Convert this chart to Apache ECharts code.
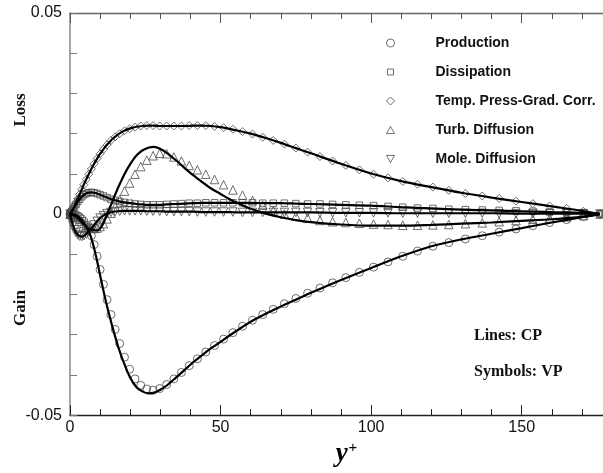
<!DOCTYPE html>
<html>
<head>
<meta charset="utf-8">
<title>Scalar variance budget</title>
<script src="https://cdn.jsdelivr.net/npm/echarts@6/dist/echarts.min.js"></script>
<style>
  html, body { margin: 0; padding: 0; background: #ffffff; }
  #chart { width: 603px; height: 473px; }
</style>
</head>
<body>
<div id="chart"></div>
<script>
// Wall-normal positions (y+) of the continuous-profile curves (CP)
const yPlusLine = [0,1,2,3,4,5,6,7,8,9,10,11,12,13,14,16,18,20,22,24,26,28,30,32,35,38,41,44,47,50,53,56,60,65,70,75,80,90,100,110,120,130,140,150,160,170,176];

const productionLine = [0,-0.0001,-0.0003,-0.0008,-0.0016,-0.0027,-0.0040,-0.0058,-0.0085,-0.0117,-0.0152,-0.0187,-0.0220,-0.0250,-0.0278,
  -0.0330,-0.0372,-0.0407,-0.0430,-0.0441,-0.0446,-0.0444,-0.0437,-0.0427,
  -0.0408,-0.0388,-0.0368,-0.0350,-0.0333,-0.0318,-0.0302,-0.0287,
  -0.0268,-0.0248,-0.0230,-0.0213,-0.0196,
  -0.0164,-0.0134,-0.0105,-0.0080,-0.0063,-0.0049,-0.0035,-0.0021,-0.0008,0];

const dissipationLine = [0,0.0012,0.0024,0.0035,0.0044,0.0050,0.0053,0.0054,0.0053,0.0051,0.0048,0.0045,0.0042,0.0039,0.0036,
  0.0032,0.0029,0.0027,0.0025,0.0024,0.0023,0.0023,0.0023,0.0024,
  0.0025,0.0026,0.0027,0.0028,0.0028,0.0028,0.0028,0.0028,
  0.0028,0.0027,0.0027,0.0026,0.0025,
  0.0023,0.0021,0.0017,0.0014,0.0011,0.0009,0.0007,0.0005,0.0003,0.0001];

const pressGradLine = [0,0.0012,0.0028,0.0045,0.0063,0.0080,0.0096,0.0111,0.0125,0.0138,0.0150,0.0160,0.0170,0.0178,0.0186,
  0.0198,0.0207,0.0213,0.0217,0.0219,0.0220,0.0220,0.0219,0.0219,
  0.0219,0.0219,0.0220,0.0220,0.0219,0.0216,0.0212,0.0207,
  0.0200,0.0189,0.0177,0.0164,0.0151,
  0.0125,0.0101,0.0082,0.0067,0.0053,0.0041,0.0030,0.0019,0.0008,0];

const turbDiffLine = [0,-0.0002,-0.0006,-0.0013,-0.0021,-0.0029,-0.0035,-0.0039,-0.0040,-0.0041,-0.0036,-0.0024,-0.0007,0.0012,0.0030,
  0.0066,0.0098,0.0124,0.0145,0.0158,0.0165,0.0167,0.0162,0.0153,
  0.0135,0.0115,0.0096,0.0079,0.0063,0.0050,0.0037,0.0026,
  0.0013,0.0001,-0.0008,-0.0015,-0.0020,
  -0.0026,-0.0029,-0.0029,-0.0027,-0.0024,-0.0021,-0.0017,-0.0013,-0.0007,0];

const moleDiffLine = [0,-0.0029,-0.0046,-0.0054,-0.0056,-0.0052,-0.0045,-0.0037,-0.0027,-0.0018,-0.0010,-0.0004,0.0001,0.0003,0.0005,
  0.0007,0.0008,0.0008,0.0008,0.0008,0.0007,0.0007,0.0007,0.0006,
  0.0006,0.0006,0.0006,0.0005,0.0005,0.0005,0.0005,0.0004,
  0.0004,0.0004,0.0004,0.0004,0.0004,
  0.0003,0.0003,0.0002,0.0002,0.0002,0.0002,0.0001,0.0001,0.0001,0];

// Grid points (y+) of the variable-property results (VP), drawn as symbols
const yPlusSym = [0,0.3,0.6,1.0,1.5, 2.0,2.6,3.2,3.9,4.6, 5.4,6.2,7.1,8.0,9.0, 10.0,11.1,12.3,13.6,15.0,
  16.5,18.1,19.8,21.6,23.5, 25.5,27.6,29.8,32.1,34.5, 37.0,39.6,42.3,45.1,48.0, 51.0,54.1,57.3,60.6,64.0,
  67.5,71.2,75.0,78.9,83.0, 87.2,91.6,96.1,100.8,105.6, 110.5,115.4,120.5,125.8,131.3, 136.9,142.5,148.1,153.7,159.3,
  164.9,170.5,176.0];

const productionSym = [0,0,0,-0.0001,-0.0001, -0.0002,-0.0004,-0.0007,-0.0012,-0.0018, -0.0027,-0.0038,-0.0054,-0.0076,-0.0105,
  -0.0138,-0.0175,-0.0213,-0.0250,-0.0287, -0.0322,-0.0356,-0.0386,-0.0410,-0.0426, -0.0435,-0.0438,-0.0434,-0.0424,-0.0410,
  -0.0394,-0.0377,-0.0360,-0.0343,-0.0327, -0.0311,-0.0295,-0.0279,-0.0264,-0.0250, -0.0237,-0.0223,-0.0210,-0.0197,-0.0184,
  -0.0171,-0.0158,-0.0145,-0.0132,-0.0119, -0.0105,-0.0092,-0.0080,-0.0071,-0.0062, -0.0054,-0.0045,-0.0037,-0.0029,-0.0021,
  -0.0014,-0.0006,0];

const dissipationSym = [0,0.0004,0.0007,0.0012,0.0018, 0.0024,0.0031,0.0037,0.0043,0.0048, 0.0051,0.0053,0.0054,0.0053,0.0051,
  0.0048,0.0045,0.0041,0.0037,0.0034, 0.0031,0.0029,0.0027,0.0025,0.0024, 0.0023,0.0023,0.0023,0.0024,0.0025,
  0.0026,0.0027,0.0027,0.0028,0.0028, 0.0028,0.0028,0.0028,0.0028,0.0027, 0.0027,0.0027,0.0026,0.0025,0.0025,
  0.0024,0.0023,0.0022,0.0021,0.0019, 0.0017,0.0015,0.0014,0.0012,0.0011, 0.0010,0.0009,0.0008,0.0007,0.0005,
  0.0004,0.0003,0.0001];

const pressGradSym = [0,0.0004,0.0007,0.0012,0.0020, 0.0028,0.0038,0.0049,0.0061,0.0073, 0.0086,0.0099,0.0112,0.0125,0.0138,
  0.0150,0.0161,0.0172,0.0183,0.0192, 0.0200,0.0207,0.0212,0.0216,0.0219, 0.0220,0.0220,0.0219,0.0219,0.0219,
  0.0219,0.0220,0.0220,0.0220,0.0218, 0.0215,0.0211,0.0205,0.0199,0.0191, 0.0183,0.0174,0.0164,0.0154,0.0143,
  0.0132,0.0121,0.0110,0.0099,0.0090, 0.0081,0.0074,0.0067,0.0059,0.0051, 0.0045,0.0039,0.0032,0.0026,0.0020,
  0.0014,0.0007,0];

const turbDiffSym = [0,0,-0.0001,-0.0002,-0.0004, -0.0006,-0.0009,-0.0013,-0.0018,-0.0023, -0.0028,-0.0032,-0.0035,-0.0036,-0.0035,
  -0.0031,-0.0024,-0.0012,0.0002,0.0018, 0.0036,0.0057,0.0077,0.0099,0.0118, 0.0134,0.0145,0.0151,0.0150,0.0142,
  0.0132,0.0121,0.0110,0.0099,0.0086, 0.0073,0.0060,0.0047,0.0034,0.0022, 0.0008,0.0000,-0.0005,-0.0010,-0.0016,
  -0.0019,-0.0021,-0.0023,-0.0025,-0.0026, -0.0028,-0.0028,-0.0027,-0.0026,-0.0024, -0.0022,-0.0019,-0.0016,-0.0013,-0.0010,
  -0.0007,-0.0004,0];

const moleDiffSym = [0,-0.0010,-0.0019,-0.0029,-0.0039, -0.0046,-0.0052,-0.0055,-0.0056,-0.0054, -0.0050,-0.0044,-0.0036,-0.0027,-0.0018,
  -0.0010,-0.0004,0.0001,0.0004,0.0006, 0.0007,0.0008,0.0008,0.0008,0.0008, 0.0007,0.0007,0.0007,0.0006,0.0006,
  0.0006,0.0006,0.0005,0.0005,0.0005, 0.0005,0.0005,0.0004,0.0004,0.0004, 0.0004,0.0004,0.0004,0.0004,0.0003,
  0.0003,0.0003,0.0003,0.0003,0.0003, 0.0002,0.0002,0.0002,0.0002,0.0002, 0.0002,0.0001,0.0001,0.0001,0.0001,
  0.0001,0.0001,0];

const termNames = ['Production', 'Dissipation', 'Temp. Press-Grad. Corr.', 'Turb. Diffusion', 'Mole. Diffusion'];
const xTickLabels = [0, 50, 100, 150];
const yTickLabels = { '-0.05': '-0.05', '0': '0', '0.05': '0.05' };

const pair = (xs, ys) => xs.map((x, i) => [x, ys[i]]);

const lineSets = [productionLine, dissipationLine, pressGradLine, turbDiffLine, moleDiffLine];
const symSets = [productionSym, dissipationSym, pressGradSym, turbDiffSym, moleDiffSym];
// upward and downward open triangles
const triUp = 'path://M5,0 L10,9 L0,9 Z';
const triDown = 'path://M0,0 L10,0 L5,9 Z';
const symbols = ['circle', 'rect', 'diamond', triUp, triDown];
const symbolSizes = [8, 6.5, 8, 8.5, 8.5];
const legendSizes = [8, 6, 8, 8, 8];

const sans = '"Liberation Sans", Arial, sans-serif';
const serif = '"Liberation Serif", "Times New Roman", serif';
const symbolStyle = { color: 'rgba(255,255,255,0)', borderColor: '#4a4a4a', borderWidth: 1 };

const series = [];
symSets.forEach((vals, i) => {
  series.push({
    name: termNames[i],
    type: 'scatter',
    data: pair(yPlusSym, vals),
    symbol: symbols[i],
    symbolSize: symbolSizes[i],
    itemStyle: symbolStyle,
    z: 2,
    silent: true
  });
});
lineSets.forEach((vals, i) => {
  series.push({
    name: termNames[i] + ' CP',
    type: 'line',
    data: pair(yPlusLine, vals),
    smooth: 0.3,
    showSymbol: false,
    lineStyle: { color: '#000', width: 2.2 },
    z: 3,
    silent: true
  });
});

// one legend block per entry so each marker keeps its own square size
const legends = termNames.map((name, i) => ({
  orient: 'vertical',
  left: 390 - legendSizes[i] / 2,
  top: 36 + i * 29,
  itemWidth: legendSizes[i],
  itemHeight: legendSizes[i],
  selectedMode: false,
  padding: 0,
  data: [{ name: name, icon: symbols[i], itemStyle: symbolStyle }],
  textStyle: {
    fontFamily: sans, fontWeight: 'bold', fontSize: 14, color: '#111',
    padding: [0, 0, 0, 40 - legendSizes[i] / 2]
  }
}));

const xMax = 177;
const option = {
  animation: false,
  backgroundColor: '#ffffff',
  grid: { left: 70, top: 13, width: 533, height: 404 },
  legend: legends,
  xAxis: [
    {
      type: 'value', min: 0, max: xMax, interval: 10, position: 'bottom',
      axisLine: { onZero: false, lineStyle: { color: '#222', width: 1.3 } },
      axisTick: { inside: true, length: 6, lineStyle: { color: '#222', width: 1 } },
      axisLabel: { show: false }, splitLine: { show: false }
    },
    {
      type: 'value', min: 0, max: xMax, interval: 50, position: 'bottom',
      axisLine: { show: false, onZero: false },
      axisTick: { inside: true, length: 10, lineStyle: { color: '#222', width: 1 } },
      axisLabel: {
        fontFamily: sans, fontSize: 16, color: '#111', margin: 4, showMaxLabel: false,
        formatter: v => (xTickLabels.indexOf(v) >= 0 ? String(v) : '')
      },
      splitLine: { show: false },
      name: '{y|y}{p|+}',
      nameLocation: 'middle',
      nameGap: 20,
      nameTextStyle: {
        padding: [0, 0, 0, 20],
        rich: {
          y: { fontFamily: serif, fontStyle: 'italic', fontWeight: 'bold', fontSize: 27, color: '#000', lineHeight: 30 },
          p: { fontFamily: sans, fontSize: 15, color: '#000', padding: [0, 0, 14, 1] }
        }
      }
    },
    {
      type: 'value', min: 0, max: xMax, interval: 10, position: 'top',
      axisLine: { onZero: false, lineStyle: { color: '#666', width: 1.3 } },
      axisTick: { inside: true, length: 6, lineStyle: { color: '#555', width: 1 } },
      axisLabel: { show: false }, splitLine: { show: false }
    },
    {
      type: 'value', min: 0, max: xMax, interval: 50, position: 'top',
      axisLine: { show: false, onZero: false },
      axisTick: { inside: true, length: 10, lineStyle: { color: '#555', width: 1 } },
      axisLabel: { show: false }, splitLine: { show: false }
    }
  ],
  yAxis: {
    type: 'value', min: -0.05, max: 0.05, interval: 0.01,
    axisLine: { onZero: false, lineStyle: { color: '#8a8a8a', width: 1.5 } },
    axisTick: { inside: true, length: 7, lineStyle: { color: '#777', width: 1 } },
    axisLabel: {
      fontFamily: sans, fontSize: 16, color: '#111', margin: 8,
      formatter: v => {
        const k = String(Math.round(v * 100) / 100);
        return yTickLabels[k] !== undefined ? yTickLabels[k] : '';
      }
    },
    splitLine: { show: false }
  },
  graphic: [
    { type: 'text', x: 21, y: 110, rotation: Math.PI / 2,
      style: { text: 'Loss', font: 'bold 17px ' + serif, fill: '#111', align: 'center', verticalAlign: 'middle' } },
    { type: 'text', x: 21, y: 308, rotation: Math.PI / 2,
      style: { text: 'Gain', font: 'bold 17px ' + serif, fill: '#111', align: 'center', verticalAlign: 'middle' } },
    { type: 'text', x: 474, y: 336,
      style: { text: 'Lines: CP', font: 'bold 16px ' + serif, fill: '#111', align: 'left', verticalAlign: 'middle' } },
    { type: 'text', x: 474, y: 372,
      style: { text: 'Symbols: VP', font: 'bold 16px ' + serif, fill: '#111', align: 'left', verticalAlign: 'middle' } }
  ],
  series: series
};

const chart = echarts.init(document.getElementById('chart'), null, { renderer: 'canvas' });
chart.setOption(option);
</script>
</body>
</html>
